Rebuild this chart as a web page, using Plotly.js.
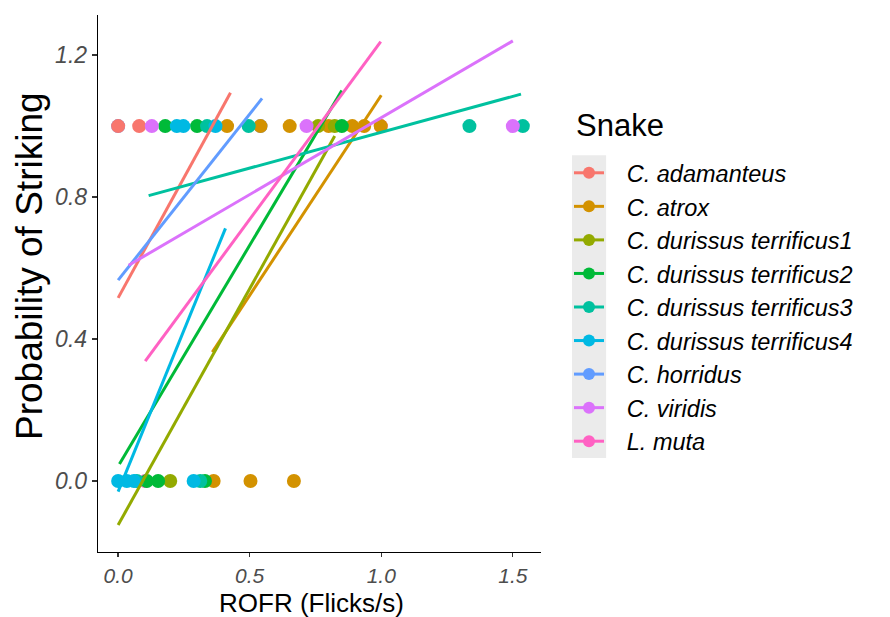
<!DOCTYPE html>
<html>
<head>
<meta charset="utf-8">
<script src="https://cdn.plot.ly/plotly-3.0.1.min.js"></script>
<style>html,body{margin:0;padding:0;background:#fff;}#chart{width:890px;height:617px;}</style>
</head>
<body>
<div id="chart"></div>
<script>
// ---- Data ----
const species = ["C. adamanteus", "C. atrox", "C. durissus terrificus1", "C. durissus terrificus2",
  "C. durissus terrificus3", "C. durissus terrificus4", "C. horridus", "C. viridis", "L. muta"];
const colors = ["#F8766D", "#D39200", "#93AA00", "#00BA38", "#00C19F", "#00B9E3", "#619CFF", "#DB72FB", "#FF61C3"];
const legendTitle = "Snake";
const xTitle = "ROFR (Flicks/s)";
const yTitle = "Probability of Striking";

// observed points (ROFR, strike 0/1)
const ptsX_adamanteus = [0.0, 0.08];
const ptsY_adamanteus = [1, 1];
const ptsX_atrox = [0.414, 0.541, 0.652, 0.80, 0.89, 0.935, 0.998, 0.363, 0.503, 0.668];
const ptsY_atrox = [1, 1, 1, 1, 1, 1, 1, 0, 0, 0];
const ptsX_dt1 = [0.76, 0.823, 0.198];
const ptsY_dt1 = [1, 1, 0];
const ptsX_dt2 = [0.179, 0.30, 0.85, 0.109, 0.152, 0.33];
const ptsY_dt2 = [1, 1, 1, 0, 0, 0];
const ptsX_dt3 = [0.338, 0.496, 1.335, 1.538, 0.071, 0.312];
const ptsY_dt3 = [1, 1, 1, 1, 0, 0];
const ptsX_dt4 = [0.223, 0.248, 0.37, 0.0, 0.033, 0.06, 0.287];
const ptsY_dt4 = [1, 1, 1, 0, 0, 0, 0];
const ptsX_horridus = [0.0, 0.541];
const ptsY_horridus = [1, 1];
const ptsX_viridis = [0.128, 0.716, 1.50];
const ptsY_viridis = [1, 1, 1];
const ptsX_muta = [0.103, 0.998];
const ptsY_muta = [0, 1];

// fitted linear trend end points
const fitX_adamanteus = [0.0, 0.427],  fitY_adamanteus = [0.516, 1.094];
const fitX_atrox = [0.358, 1.0],       fitY_atrox = [0.363, 1.087];
const fitX_dt1 = [0.0, 0.823],         fitY_dt1 = [-0.124, 0.972];
const fitX_dt2 = [0.005, 0.85],        fitY_dt2 = [0.048, 1.10];
const fitX_dt3 = [0.116, 1.531],       fitY_dt3 = [0.804, 1.090];
const fitX_dt4 = [0.0, 0.408],         fitY_dt4 = [-0.03, 0.712];
const fitX_horridus = [0.0, 0.547],    fitY_horridus = [0.566, 1.078];
const fitX_viridis = [0.04, 1.50],     fitY_viridis = [0.608, 1.240];
const fitX_muta = [0.103, 0.998],      fitY_muta = [0.338, 1.238];

const xTicks = [0, 0.5, 1.0, 1.5];
const yTicks = [0, 0.4, 0.8, 1.2];

// ---- Build traces ----
const pts = [
  [ptsX_adamanteus, ptsY_adamanteus], [ptsX_atrox, ptsY_atrox], [ptsX_dt1, ptsY_dt1],
  [ptsX_dt2, ptsY_dt2], [ptsX_dt3, ptsY_dt3], [ptsX_dt4, ptsY_dt4],
  [ptsX_horridus, ptsY_horridus], [ptsX_viridis, ptsY_viridis], [ptsX_muta, ptsY_muta]];
const fits = [
  [fitX_adamanteus, fitY_adamanteus], [fitX_atrox, fitY_atrox], [fitX_dt1, fitY_dt1],
  [fitX_dt2, fitY_dt2], [fitX_dt3, fitY_dt3], [fitX_dt4, fitY_dt4],
  [fitX_horridus, fitY_horridus], [fitX_viridis, fitY_viridis], [fitX_muta, fitY_muta]];

const drawOrder = [6, 8, 0, 1, 2, 3, 4, 5, 7];
const traces = [];
drawOrder.forEach(i => {
  traces.push({type: 'scatter', mode: 'markers', x: pts[i][0], y: pts[i][1],
    marker: {color: colors[i], size: 14, line: {width: 0}}, showlegend: false, hoverinfo: 'skip'});
});
species.forEach((s, i) => {
  traces.push({type: 'scatter', mode: 'lines', x: fits[i][0], y: fits[i][1],
    line: {color: colors[i], width: 3}, showlegend: false, hoverinfo: 'skip'});
});
const pad = '\u00A0\u00A0\u2009';
species.forEach((s, i) => {
  traces.push({type: 'scatter', mode: 'lines+markers', x: [null], y: [null], name: pad + s,
    line: {color: colors[i], width: 3}, marker: {color: colors[i], size: 12}, showlegend: true});
});

const font = "Liberation Sans, Arial, sans-serif";
const layout = {
  width: 890, height: 617,
  margin: {l: 98, r: 349, t: 15, b: 65},
  paper_bgcolor: '#fff', plot_bgcolor: '#fff',
  font: {family: font, color: '#000'},
  xaxis: {
    range: [-0.0765, 1.607], tickvals: xTicks, tickformat: '.1f',
    showgrid: false, zeroline: false, showline: true, linecolor: '#000', linewidth: 1.3,
    ticks: 'outside', ticklen: 4, tickcolor: '#333', tickwidth: 1.3,
    tickfont: {family: font, size: 21, color: '#4D4D4D', style: 'italic'}
  },
  yaxis: {
    range: [-0.2, 1.313], tickvals: yTicks, tickformat: '.1f',
    showgrid: false, zeroline: false, showline: true, linecolor: '#000', linewidth: 1.3,
    ticks: 'outside', ticklen: 5, tickcolor: '#333', tickwidth: 1.3,
    tickfont: {family: font, size: 23, color: '#4D4D4D', style: 'italic'}
  },
  legend: {
    x: 1.0632, y: 0.7467, xanchor: 'left', yanchor: 'top',
    font: {family: font, size: 23.5, color: '#000', style: 'italic'},
    itemwidth: 30, tracegroupgap: 0, bgcolor: 'rgba(0,0,0,0)'
  },
  annotations: [
    {text: legendTitle, xref: 'paper', yref: 'paper', x: 1.074, y: 0.795,
      xanchor: 'left', yanchor: 'middle', showarrow: false,
      font: {family: font, size: 31, color: '#000'}},
    {text: xTitle, xref: 'paper', yref: 'paper', x: 0.481, y: -0.0949,
      xanchor: 'center', yanchor: 'middle', showarrow: false,
      font: {family: font, size: 26, color: '#000'}},
    {text: yTitle, xref: 'paper', yref: 'paper', x: -0.1535, y: 0.5326, textangle: -90,
      xanchor: 'center', yanchor: 'middle', showarrow: false,
      font: {family: font, size: 37, color: '#000'}}
  ],
  shapes: [{type: 'rect', xref: 'paper', yref: 'paper', x0: 1.070, x1: 1.147, y0: 0.175, y1: 0.739,
    fillcolor: '#EBEBEB', line: {width: 0}, layer: 'below'}]
};

Plotly.newPlot('chart', traces, layout, {displayModeBar: false, staticPlot: true});
</script>
</body>
</html>
